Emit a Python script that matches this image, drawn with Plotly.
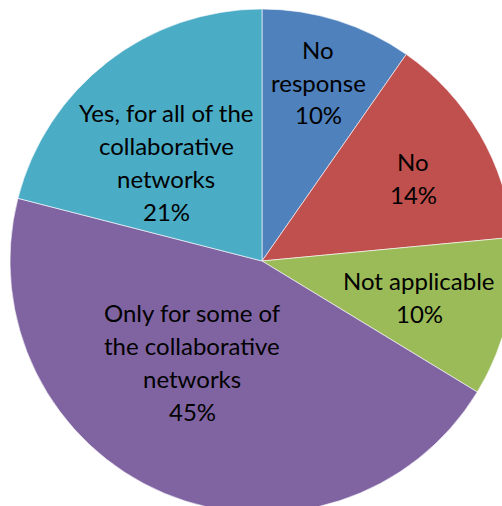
import plotly.graph_objects as go

labels = ["No response", "No", "Not applicable",
          "Only for some of the collaborative networks",
          "Yes, for all of the collaborative networks"]
values = [9.7, 13.8, 10.2, 45.3, 21.0]
colors = ["#4F81BD", "#C0504D", "#9BBB59", "#8064A2", "#4BACC6"]
label_lines = [["No", "response"], ["No"], ["Not applicable"],
               ["Only for some of", "the collaborative", "networks"],
               ["Yes, for all of the", "collaborative", "networks"]]
# label block centres in pixels (x, y from top)
label_pos = [(318, 82), (413, 178), (419, 297), (192, 362), (166, 162)]

W, H = 514, 513
R = 252
cx, cy = 262, 261

fig = go.Figure(go.Pie(
    labels=labels, values=values, sort=False, direction="clockwise",
    rotation=0, textinfo="none", hoverinfo="label+percent",
    marker=dict(colors=colors, line=dict(color="rgba(255,255,255,0.6)", width=1)),
    domain=dict(x=[(cx - R) / W, (cx + R) / W], y=[1 - (cy + R) / H, 1 - (cy - R) / H]),
    showlegend=False,
))

total = sum(values)
LH = 33
for lines, (px, py), v in zip(label_lines, label_pos, values):
    pct = f"{round(100 * v / total)}%"
    allines = lines + [pct]
    n = len(allines)
    for i, t in enumerate(allines):
        y = py + (i - (n - 1) / 2) * LH
        fig.add_annotation(x=px / W, y=1 - y / H, xref="paper", yref="paper",
                           text=t, showarrow=False, xanchor="center", yanchor="middle",
                           font=dict(family="Lato", size=24, color="#000000"))

fig.update_layout(width=W, height=H, margin=dict(l=0, r=0, t=0, b=0),
                  paper_bgcolor="white", plot_bgcolor="white")

fig.write_html("out.html", config={"displayModeBar": False},
               post_script="document.body.style.margin='0';document.body.style.overflow='hidden';document.documentElement.style.overflow='hidden';")
